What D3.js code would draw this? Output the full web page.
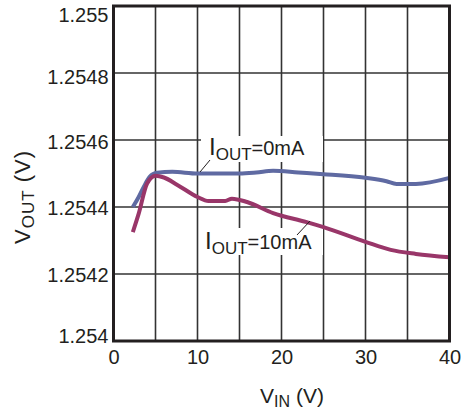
<!DOCTYPE html>
<html>
<head>
<meta charset="utf-8">
<script src="https://cdn.jsdelivr.net/npm/d3@7"></script>
<style>
  body { margin: 0; background: #fff; }
  text { font-family: "Liberation Sans", Arial, sans-serif; fill: #231f20; }
</style>
</head>
<body>
<div id="chart"></div>
<script>
// data
const xTicks = [0, 10, 20, 30, 40];
const yTicks = [1.254, 1.2542, 1.2544, 1.2546, 1.2548, 1.255];

const vin0 = [2.3, 3, 3.6, 4.3, 5.2, 7, 10, 15, 17, 19, 22, 25, 30, 32.5, 33.7, 36, 40];
const vout0 = [1.25440, 1.25443, 1.25446, 1.25449, 1.254502, 1.254505, 1.2545, 1.2545, 1.254503,
               1.254508, 1.254503, 1.254498, 1.254487, 1.254477, 1.254469, 1.254469, 1.254487];

const vin10 = [2.3, 3, 4, 5, 6, 7.6, 10, 11.3, 13.3, 14.1, 15.9, 19, 23, 25, 30, 33, 36, 40];
const vout10 = [1.254325, 1.25438, 1.25447, 1.254493, 1.254488, 1.254466, 1.25443, 1.254418, 1.254418,
                1.254425, 1.254415, 1.254382, 1.254355, 1.25434, 1.254296, 1.254272, 1.25426, 1.25425];

const W = 465, H = 413;
const pL = 113.5, pR = 449.5, pT = 6, pB = 341;

const svg = d3.select("#chart").append("svg")
  .attr("width", W)
  .attr("height", H);

const x = d3.scaleLinear().domain([0, 40]).range([pL, pR]);
const y = d3.scaleLinear().domain([1.254, 1.255]).range([pB, pT]);

// grid
svg.append("g")
  .selectAll("line")
  .data(d3.range(5, 40, 5))
  .enter().append("line")
    .attr("x1", d => x(d)).attr("x2", d => x(d))
    .attr("y1", pT).attr("y2", pB)
    .attr("stroke", "#333")
    .attr("stroke-width", 1.6);

svg.append("g")
  .selectAll("line")
  .data(yTicks.slice(1, -1))
  .enter().append("line")
    .attr("x1", pL).attr("x2", pR)
    .attr("y1", d => y(d)).attr("y2", d => y(d))
    .attr("stroke", "#333")
    .attr("stroke-width", 1.6);

// white boxes behind the labels
const labels = [
  { main: "=0mA", bx: 201, by: 136, bw: 122, bh: 26, tx: 209, ty: 155, lx1: 200, ly1: 172, lx2: 210, ly2: 160 },
  { main: "=10mA", bx: 201, by: 228, bw: 122, bh: 27, tx: 205, ty: 249, lx1: 297, ly1: 235, lx2: 310, ly2: 221 }
];

svg.append("g")
  .selectAll("rect")
  .data(labels)
  .enter().append("rect")
    .attr("x", d => d.bx).attr("y", d => d.by)
    .attr("width", d => d.bw).attr("height", d => d.bh)
    .attr("fill", "#fff");

// curves
const line = d3.line()
  .x(d => x(d[0]))
  .y(d => y(d[1]))
  .curve(d3.curveMonotoneX);

svg.append("path")
  .datum(vin0.map((v, i) => [v, vout0[i]]))
  .attr("fill", "none")
  .attr("stroke", "#5f6aa2")
  .attr("stroke-width", 4)
  .attr("d", line);

svg.append("path")
  .datum(vin10.map((v, i) => [v, vout10[i]]))
  .attr("fill", "none")
  .attr("stroke", "#993669")
  .attr("stroke-width", 4)
  .attr("d", line);

// frame
svg.append("rect")
  .attr("x", pL).attr("y", pT)
  .attr("width", pR - pL).attr("height", pB - pT)
  .attr("fill", "none")
  .attr("stroke", "#231f20")
  .attr("stroke-width", 3);

// axes
const xAxis = svg.append("g")
  .attr("transform", `translate(0,${pB})`)
  .call(d3.axisBottom(x).tickValues(xTicks).tickSize(0).tickPadding(12).tickFormat(d => d));
xAxis.select(".domain").remove();
xAxis.selectAll("text")
  .attr("font-size", 20)
  .attr("dy", "0.71em")
  .attr("y", 9)
  .style("font-family", "'Liberation Sans', Arial, sans-serif")
  .attr("fill", "#231f20");

// the reference nudges its y labels off the gridlines a little
const yNudge = [-4.5, 1.5, 1.5, 2, 4.5, 9.5];
const yAxis = svg.append("g")
  .attr("transform", `translate(${pL},0)`)
  .call(d3.axisLeft(y).tickValues(yTicks).tickSize(0).tickPadding(5).tickFormat(d => String(+d.toFixed(4))));
yAxis.select(".domain").remove();
yAxis.selectAll("text")
  .attr("font-size", 20)
  .attr("y", (d, i) => yNudge[i])
  .style("font-family", "'Liberation Sans', Arial, sans-serif")
  .attr("fill", "#231f20");

// annotation labels
labels.forEach(d => {
  svg.append("line")
    .attr("x1", d.lx1).attr("y1", d.ly1)
    .attr("x2", d.lx2).attr("y2", d.ly2)
    .attr("stroke", "#231f20")
    .attr("stroke-width", 1);

  const t = svg.append("text")
    .attr("x", d.tx)
    .attr("y", d.ty)
    .attr("font-size", 24);
  t.append("tspan").text("I");
  t.append("tspan").attr("font-size", 17).attr("dy", 5).text("OUT");
  t.append("tspan").attr("font-size", 20).attr("dy", -5).text(d.main);
});

// axis titles
const yTitle = svg.append("text")
  .attr("transform", "rotate(-90)")
  .attr("x", -197)
  .attr("y", 30)
  .attr("text-anchor", "middle")
  .attr("letter-spacing", 1)
  .attr("font-size", 22);
yTitle.append("tspan").text("V");
yTitle.append("tspan").attr("font-size", 17).attr("dy", 4).text("OUT");
yTitle.append("tspan").attr("dy", -4).text(" (V)");

const xTitle = svg.append("text")
  .attr("x", 292)
  .attr("y", 403)
  .attr("text-anchor", "middle")
  .attr("font-size", 21);
xTitle.append("tspan").text("V");
xTitle.append("tspan").attr("font-size", 16).attr("dy", 4).text("IN");
xTitle.append("tspan").attr("dy", -4).text(" (V)");
</script>
</body>
</html>
